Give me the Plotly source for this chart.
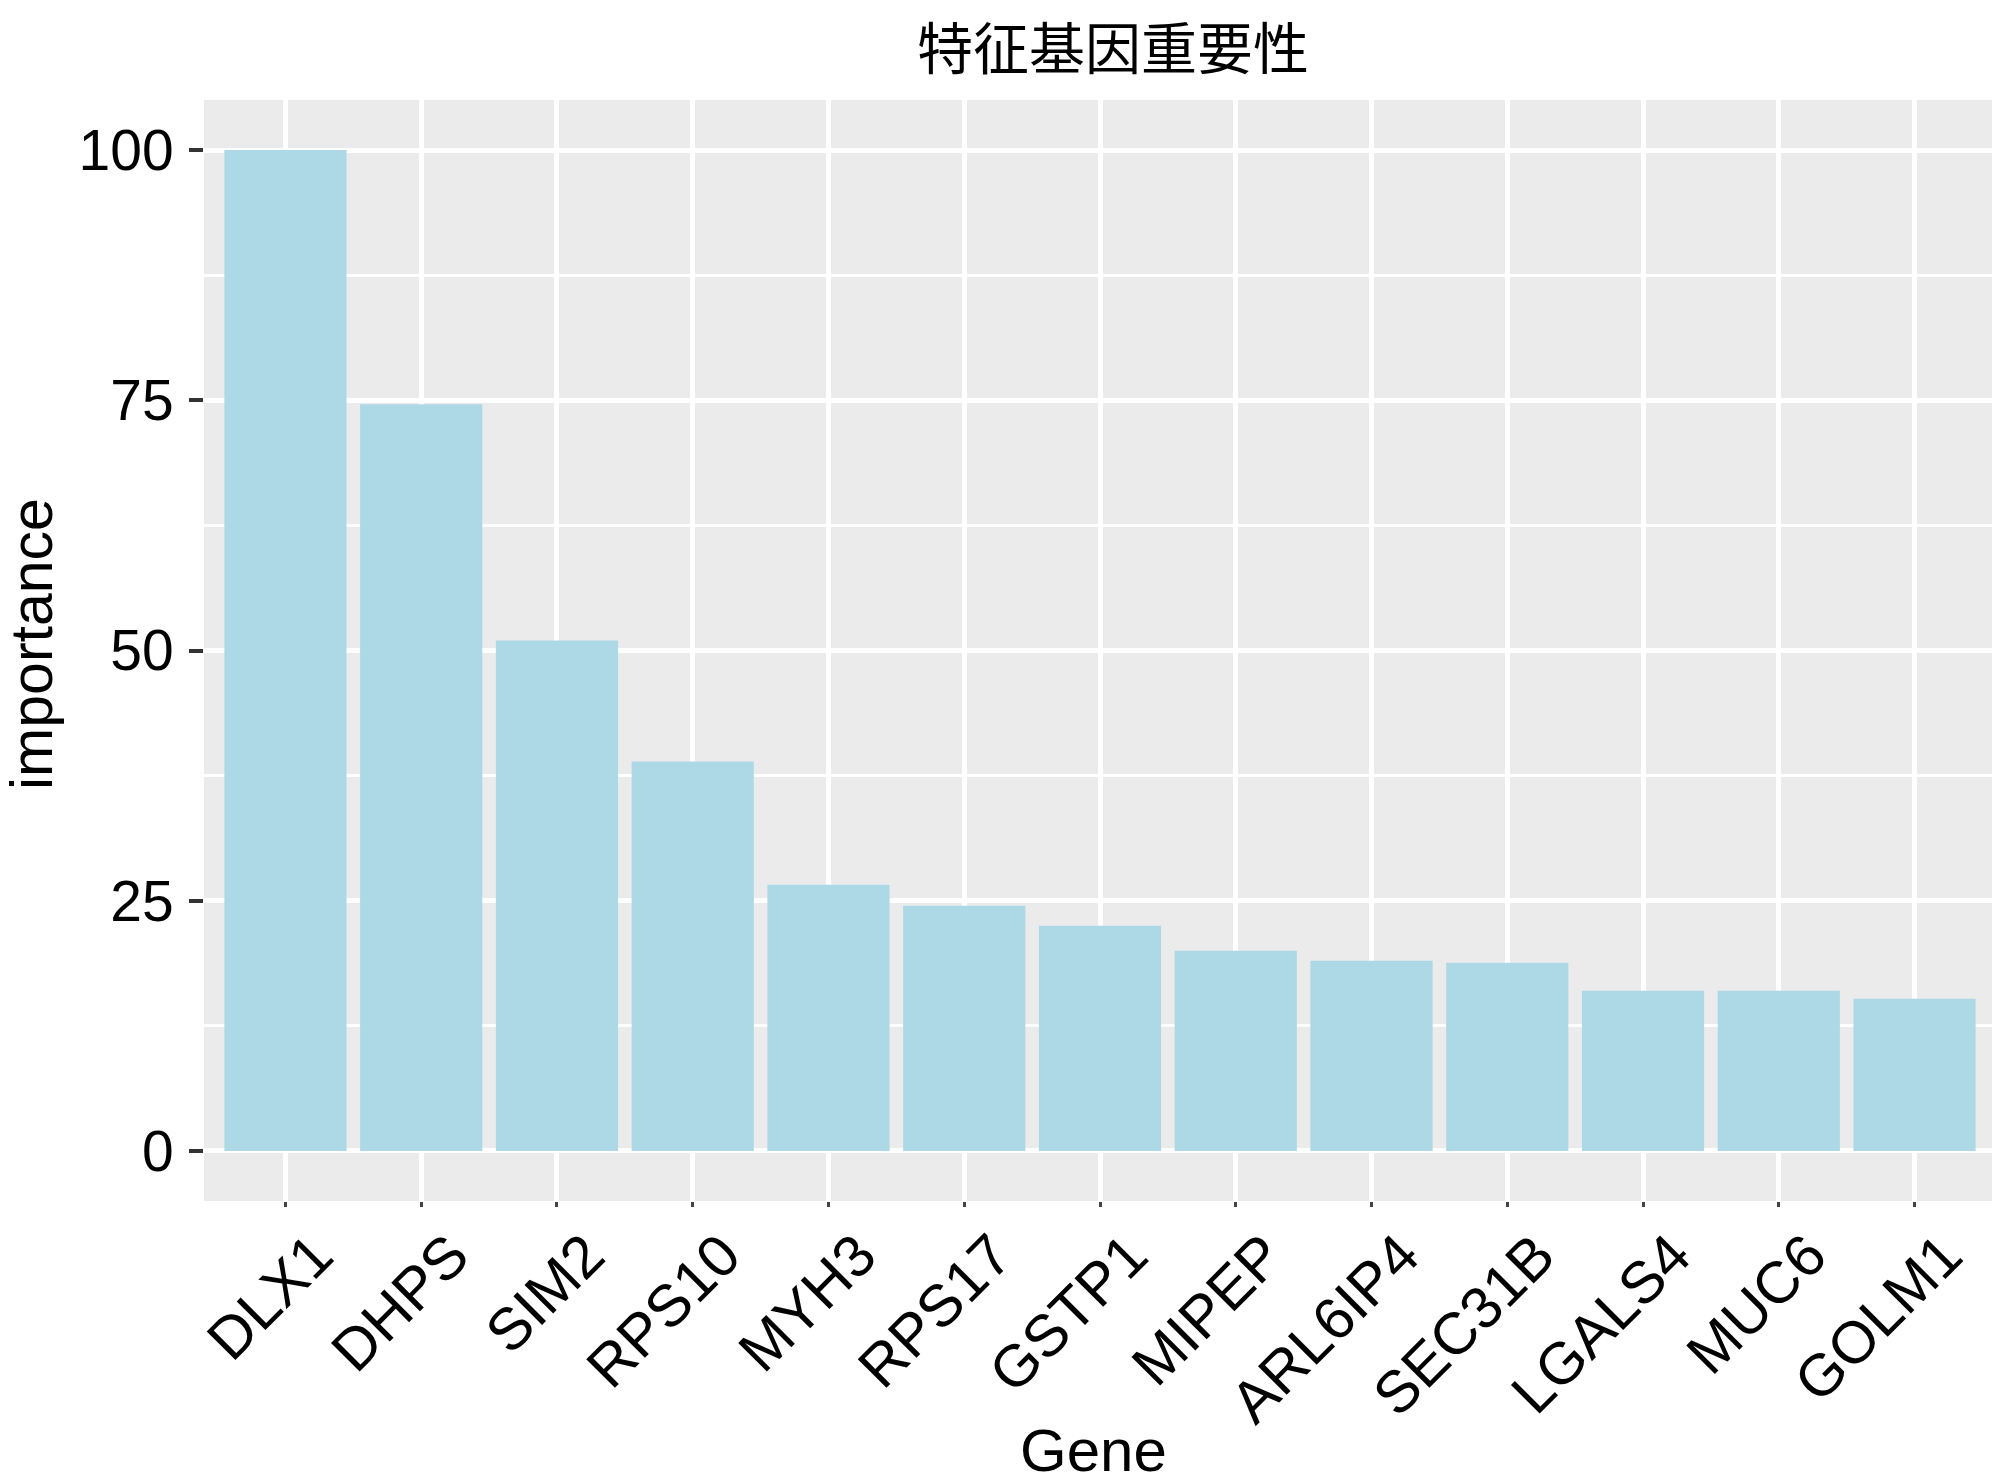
import plotly.graph_objects as go

# Gene importance values
genes = ["DLX1", "DHPS", "SIM2", "RPS10", "MYH3", "RPS17", "GSTP1",
         "MIPEP", "ARL6IP4", "SEC31B", "LGALS4", "MUC6", "GOLM1"]
importance = [100, 74.6, 51.0, 38.9, 26.6, 24.5, 22.5, 20.0, 19.0, 18.8, 16.0, 16.0, 15.2]
y_ticks = [0, 25, 50, 75, 100]

# the page body keeps its default 8px margin, so the figure is 8px smaller
W, H = 1992, 1475
ML, MR, MT, MB = 196, 4, 92, 282
PW, PH = W - ML - MR, H - MT - MB
FONT = "Liberation Sans, Arial, sans-serif"
PANEL = "#EBEBEB"


def paper_xy(px, py):
    """Figure pixel position -> paper coords of the plot area."""
    return (px - ML) / PW, (H - MB - py) / PH


fig = go.Figure(
    go.Bar(x=genes, y=importance, marker=dict(color="#ADD8E6", line=dict(width=0)))
)

fig.update_layout(
    width=W,
    height=H,
    paper_bgcolor="white",
    plot_bgcolor=PANEL,
    bargap=0.1,
    showlegend=False,
    margin=dict(l=ML, r=MR, t=MT, b=MB, autoexpand=False),
    font=dict(family=FONT, color="black"),
    title=dict(
        text="特征基因重要性",
        font=dict(family="Noto Sans CJK SC", size=56, color="black"),
        x=paper_xy(1105, 0)[0], xref="paper", xanchor="center",
        y=1 - 41 / H, yref="container", yanchor="middle",
    ),
)

fig.update_xaxes(
    range=[-0.6, 12.6],
    tickangle=-45,
    tickfont=dict(size=59, color="black"),
    ticks="outside", ticklen=5, tickwidth=3, tickcolor="#444444",
    ticklabelshift=30, ticklabelstandoff=-10,
    showgrid=True, gridcolor="white", gridwidth=5,
    zeroline=False, showline=False,
    automargin=False,
)

fig.update_yaxes(
    range=[-5, 105],
    tickvals=y_ticks,
    tickfont=dict(size=57, color="black"),
    ticks="outside", ticklen=14, tickwidth=4, tickcolor="#333333",
    ticklabelstandoff=4,
    showgrid=True, gridcolor="white", gridwidth=5,
    minor=dict(dtick=12.5, tick0=0, showgrid=True, gridcolor="white", gridwidth=2.5),
    zeroline=False, showline=False,
    automargin=False,
)

# axis titles placed as in the reference
gx, gy = paper_xy(1085, 1442)
fig.add_annotation(text="Gene", x=gx, y=gy, xref="paper", yref="paper",
                   xanchor="center", yanchor="middle", showarrow=False,
                   font=dict(family=FONT, size=60, color="black"))
ix, iy = paper_xy(24, 636)
fig.add_annotation(text="importance", textangle=-90, x=ix, y=iy,
                   xref="paper", yref="paper", xanchor="center", yanchor="middle",
                   showarrow=False, font=dict(family=FONT, size=59, color="black"))

fig.write_html("out.html")
